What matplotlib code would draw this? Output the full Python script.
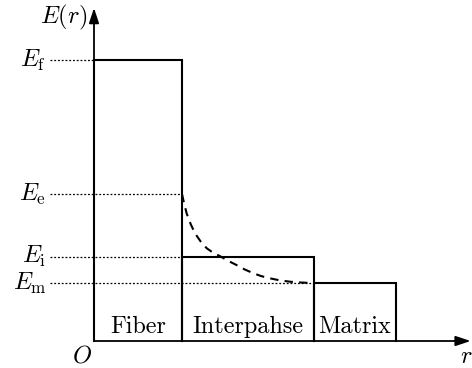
import matplotlib.pyplot as plt

plt.rcParams['font.family'] = 'serif'
plt.rcParams['font.serif'] = ['cmr10']
plt.rcParams['mathtext.fontset'] = 'cm'
plt.rcParams['axes.formatter.use_mathtext'] = True

# radii (fiber = 1) and moduli (E_f = 1)
R_EDGE = [0.0, 1.0, 2.5, 3.43]
E_F = 1.0
E_E = 0.523
E_I = 0.30
E_M = 0.206
REGIONS = ['Fiber', 'Interpahse', 'Matrix']

# dashed gradient curve
CURVE_R = [1.0, 1.02, 1.053, 1.10, 1.148, 1.21, 1.281, 1.35, 1.432, 1.52, 1.622,
           1.71, 1.811, 1.90, 2.0, 2.11, 2.227, 2.36, 2.5]
CURVE_E = [0.523, 0.495, 0.454, 0.415, 0.383, 0.355, 0.330, 0.315, 0.302, 0.286, 0.270,
           0.255, 0.241, 0.231, 0.223, 0.216, 0.211, 0.208, 0.206]

fig = plt.figure(figsize=(4.72, 3.68), dpi=100)
ax = fig.add_axes([0, 0, 1, 1])
ax.set_xlim(-94 / 88, (472 - 94) / 88)
ax.set_ylim(-27 / 281, 341 / 281)
ax.axis('off')

lw = 1.5
fs = 17.5
# axes with arrows
astyle = '-|>,head_length=0.9,head_width=0.3'
ax.annotate('', xy=(4.28, 0), xytext=(0, 0),
            arrowprops=dict(arrowstyle=astyle, lw=1.3, color='black', shrinkA=0, shrinkB=0))
ax.annotate('', xy=(0, 1.185), xytext=(0, 0),
            arrowprops=dict(arrowstyle=astyle, lw=1.3, color='black', shrinkA=0, shrinkB=0))

# step profile
tops = [E_F, E_I, E_M]
for i in range(3):
    r0, r1 = R_EDGE[i], R_EDGE[i + 1]
    ax.plot([r0, r0, r1, r1], [0, tops[i], tops[i], 0], color='black', lw=lw,
            solid_joinstyle='miter')
    ax.text((r0 + r1) / 2, 0.03, REGIONS[i], ha='center', va='baseline', fontsize=fs)

# dotted guide lines
x_start = -0.5
for e, xe in [(E_F, 0), (E_E, R_EDGE[1]), (E_I, R_EDGE[1]), (E_M, R_EDGE[2])]:
    ax.plot([x_start, xe], [e, e], color='black', lw=0.9, ls=(0, (1.5, 1.5)))

labels = [(E_F, r'$E_{\mathrm{f}}$'), (E_E, r'$E_{\mathrm{e}}$'),
          (E_I, r'$E_{\mathrm{i}}$'), (E_M, r'$E_{\mathrm{m}}$')]
for e, s in labels:
    ax.text(x_start - 0.04, e, s, ha='right', va='center', fontsize=fs)

ax.plot(CURVE_R, CURVE_E, color='black', lw=1.5, ls=(0, (4, 3)))

ax.text(-0.08, 1.15, r'$E(r)$', ha='right', va='center', fontsize=fs)
ax.text(-0.14, -0.055, r'$O$', ha='center', va='center', fontsize=fs)
ax.text(4.23, -0.055, r'$r$', ha='center', va='center', fontsize=fs)

fig.savefig('out.png', dpi=100)
